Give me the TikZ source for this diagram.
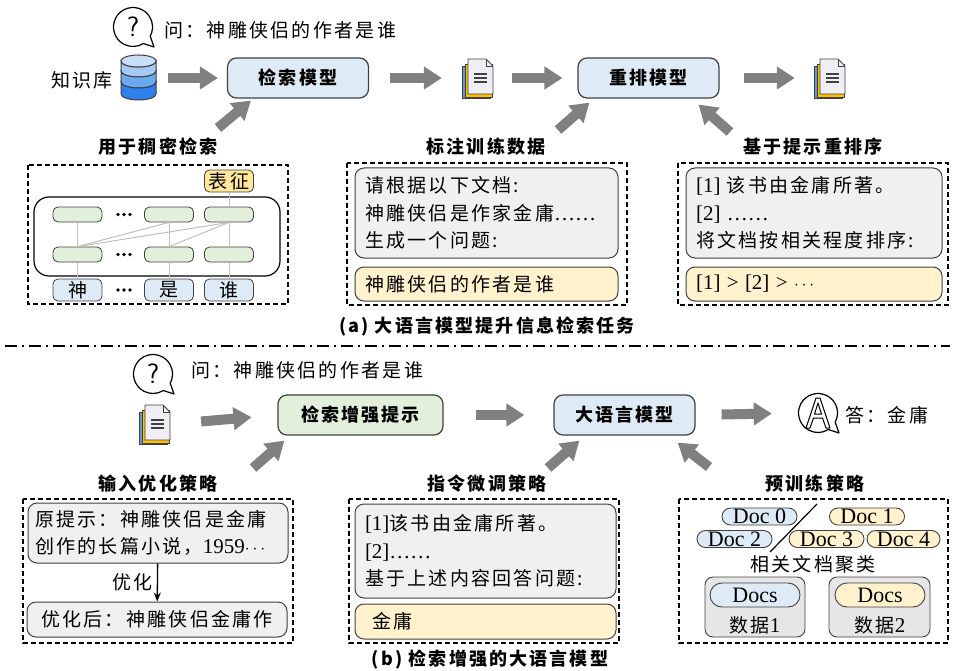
\documentclass[tikz,border=0pt]{standalone}
\usepackage{fontspec}
\setmainfont{Liberation Serif}
\newfontfamily\cjk[LetterSpace=12]{Noto Sans CJK SC}
\usetikzlibrary{arrows.meta}

\newcommand\lat[1]{{\rmfamily\fontsize{21}{27.5}\selectfont #1}}

\definecolor{boxblue}{HTML}{DEEBF7}
\definecolor{boxgreen}{HTML}{E2EFDA}
\definecolor{boxyellow}{HTML}{FFF2CC}
\definecolor{tagyellow}{HTML}{FFE699}
\definecolor{boxgray}{HTML}{F0F0F0}
\definecolor{packgray}{HTML}{E6E6E6}
\definecolor{edgegray}{HTML}{404040}
\definecolor{arrowgray}{HTML}{808080}
\definecolor{linkgray}{HTML}{BFBFBF}
\definecolor{dbtop}{HTML}{C9DFF8}
\definecolor{dba}{HTML}{A6C9F4}
\definecolor{dbb}{HTML}{6AA8F0}
\definecolor{dbc}{HTML}{2F7FEE}
\definecolor{pageblue}{HTML}{5B9BD5}
\definecolor{pageyellow}{HTML}{FFC000}
\definecolor{pagewhite}{HTML}{EFEFF3}

\tikzset{
  txt/.style={font=\cjk\fontsize{19}{27.5}\selectfont, inner sep=0pt},
  lbl/.style={font=\cjk\bfseries\fontsize{18}{22}\selectfont, inner sep=0pt},
  model/.style={draw=edgegray, line width=1.2pt, rounded corners=9pt, minimum width=141pt, minimum height=40pt, lbl},
  note/.style={txt, draw=edgegray, fill=boxgray, line width=1pt, rounded corners=9pt, align=left, inner xsep=10pt},
  reply/.style={note, fill=boxyellow},
  cell/.style={draw=edgegray, fill=boxgreen, line width=0.8pt, rounded corners=5pt, minimum width=49pt, minimum height=15pt, inner sep=0pt},
  tok/.style={txt, draw=edgegray, fill=boxblue, line width=0.8pt, rounded corners=5pt, minimum width=49pt, minimum height=22pt},
  pill/.style={draw=edgegray, line width=0.9pt, rounded corners=8.5pt, minimum width=75pt, minimum height=17pt, inner sep=0pt, font=\fontsize{22}{22}\selectfont},
  pack/.style={draw=edgegray, fill=packgray, line width=0.9pt, rounded corners=8pt, minimum width=100pt, minimum height=60pt},
  hole/.style={minimum width=32pt, minimum height=40pt, inner sep=0pt},
  link/.style={draw=linkgray, line width=1pt},
  panel/.style={draw, line width=1.4pt, dash pattern=on 5pt off 3pt},
  fat/.style={draw=arrowgray, line width=10pt, -{Triangle[length=18pt,width=22pt]}},
  pics/bubble/.style={code={
    \draw[line width=1.2pt, fill=white, line join=round] (28:19.5) arc[start angle=28, end angle=-302, radius=19.5] -- (21,20) -- cycle;
  }},
  pics/docs/.style={code={
    \filldraw[fill=pageblue, draw=edgegray, line width=0.8pt] (-16,-12) rectangle (12,20);
    \filldraw[fill=pageyellow, draw=edgegray, line width=0.8pt] (-13,-14) rectangle (14,19);
    \filldraw[fill=pagewhite, draw=edgegray, line width=0.9pt, line join=round] (-10,-19) -- (8,-19) -- (15,-12) -- (15,16) -- (-10,16) -- cycle;
    \draw[edgegray, line width=0.8pt] (8,-19) -- (8,-12) -- (15,-12);
    \foreach \y in {-4,0,4} \draw[edgegray, line width=1.2pt] (-4,\y) -- (9,\y);
  }}
}

\begin{document}
\begin{tikzpicture}[x=1pt,y=-1pt]
\useasboundingbox (0,0) rectangle (971,671);

% (a) top row
\pic at (133,27) {bubble};
\node[font=\sffamily\fontsize{28}{28}\selectfont] (qmark) at (133,27) {?};
\node[txt, anchor=west] (qtext) at (164,30) {问：神雕侠侣的作者是谁};
\node[txt, anchor=east] (kb) at (113,80) {知识库};
\node[hole, minimum width=35pt, minimum height=45pt] (db) at (138.5,78) {};
\foreach \yt/\yb/\c in {61/71/dba, 71/82/dbb, 82/94/dbc}
  \filldraw[fill=\c, draw=edgegray, line width=1pt] (121,\yt) -- (121,\yb) arc[start angle=180, end angle=0, x radius=17.5, y radius=6] -- (156,\yt) arc[start angle=0, end angle=180, x radius=17.5, y radius=6] -- cycle;
\filldraw[fill=dbtop, draw=edgegray, line width=1pt] (138.5,61) ellipse[x radius=17.5, y radius=6];

\node[model, fill=boxblue] (retr) at (298,78) {检索模型};
\pic at (478,78) {docs};
\node[hole] (doc1) at (478,78) {};
\node[model, fill=boxblue] (rank) at (648.5,78) {重排模型};
\pic at (830,78) {docs};
\node[hole] (doc2) at (830,78) {};

\draw[fat, shorten <=12pt, shorten >=9pt] (db.east) -- (retr.west);
\draw[fat, shorten <=21pt, shorten >=20pt] (retr.east) -- (doc1.west);
\draw[fat, shorten <=18pt, shorten >=15pt] (doc1.east) -- (rank.west);
\draw[fat, shorten <=24pt, shorten >=19pt] (rank.east) -- (doc2.west);

\node[lbl] (dense) at (158,147) {用于稠密检索};
\node[lbl] (anno) at (486,147) {标注训练数据};
\node[lbl] (hint) at (813,147) {基于提示重排序};

\coordinate (ta1) at (218,128);
\coordinate (ta2) at (558,130);
\coordinate (ta3) at (730,132);
\draw[fat] (ta1) -- ([xshift=24pt,yshift=-2pt]retr.south west);
\draw[fat] (ta2) -- ([xshift=12pt,yshift=-4pt]rank.south west);
\draw[fat] (ta3) -- ([xshift=-21pt,yshift=-6pt]rank.south east);

% (a) panels
\draw[panel] (28,165) rectangle (288,304);
\draw[panel] (347,163) rectangle (627,305);
\draw[panel] (678,163) rectangle (948,305);

% dense encoder
\node[draw, line width=1.2pt, rounded corners=15pt, minimum width=246pt, minimum height=79pt] (enc) at (157,236.5) {};
\node[tok] (tk1) at (77.5,290) {神};
\node[tok] (tk2) at (169,290) {是};
\node[tok] (tk3) at (229,290) {谁};
\node[cell] (lo1) at (77.5,254.5) {};
\node[cell] (lo2) at (169,254.5) {};
\node[cell] (lo3) at (229,254.5) {};
\node[cell] (up1) at (77.5,214.5) {};
\node[cell] (up2) at (169,214.5) {};
\node[cell] (up3) at (229,214.5) {};
\node[tok, fill=tagyellow] (rep) at (229,181) {表征};
\draw[link] (tk1) -- (lo1) -- (up1);
\draw[link] (tk2) -- (lo2) -- (up2);
\draw[link] (tk3) -- (lo3) -- (up3) -- (rep);
\draw[link] (lo1.north) -- (up2.south);
\draw[link] (lo1.north) -- (up3.south);
\draw[link] (lo2.north) -- (up3.south);
\foreach \y in {214.5,254.5,290}
  \foreach \dx in {-6,0,6}
    \fill (124+\dx,\y) circle (1.9pt);

% question generation
\node[note, text width=243pt, minimum height=90pt] (ask) at (486.5,213) {请根据以下文档:\\神雕侠侣是作家金庸\lat{……}\\生成一个问题:};
\node[reply, text width=243pt, minimum height=34pt] (gen) at (486.5,284) {神雕侠侣的作者是谁};

% reranking prompt
\node[note, text width=236pt, minimum height=90pt] (order) at (814,213) {\lat{[1]} 该书由金庸所著。\\\lat{[2] ……}\\将文档按相关程度排序:};
\node[reply, text width=236pt, minimum height=34pt] (rankout) at (814,284) {\lat{[1] > [2] >} $\cdots$};

\node[lbl] (capa) at (487,327) {(a) 大语言模型提升信息检索任务};

\draw[line width=1.4pt, dash pattern=on 12pt off 5pt on 2pt off 5pt] (5,346) -- (950,346);

% (b) top row
\pic at (153,374) {bubble};
\node[font=\sffamily\fontsize{28}{28}\selectfont] (qmark2) at (153,374) {?};
\node[txt, anchor=west] (qtext2) at (191,370) {问：神雕侠侣的作者是谁};
\pic at (155,424) {docs};
\node[hole] (doc3) at (155,424) {};
\node[model, fill=boxgreen, minimum width=165pt] (aug) at (360.5,415) {检索增强提示};
\node[model, fill=boxblue] (llm) at (624.5,415) {大语言模型};
\pic at (818,413) {bubble};
\draw[line width=1pt, line join=round] (806,428) -- (816,398) -- (820,398) -- (830,428) -- (826,428) -- (822.5,418) -- (813.5,418) -- (810,428) -- cycle
  (814.5,414) -- (818,403) -- (821.5,414) -- cycle;
\node[hole, minimum width=40pt] (ansb) at (818,413) {};
\node[txt, anchor=west] (atext) at (845,415) {答：金庸};

\draw[fat, shorten <=30pt, shorten >=26pt] (doc3.east) -- (aug.west);
\draw[fat, shorten <=32pt, shorten >=29pt] (aug.east) -- (llm.west);
\draw[fat, shorten <=26pt, shorten >=26pt] (llm.east) -- (ansb.west);

\node[lbl] (inopt) at (158,484) {输入优化策略};
\node[lbl] (inst) at (487,484) {指令微调策略};
\node[lbl] (pre) at (815,484) {预训练策略};

\coordinate (tb1) at (253,468);
\coordinate (tb2) at (548,468);
\coordinate (tb3) at (709,467);
\draw[fat] (tb1) -- ([xshift=7pt,yshift=-5pt]aug.south west);
\draw[fat] (tb2) -- ([xshift=26pt,yshift=-5pt]llm.south west);
\draw[fat] (tb3) -- ([xshift=-18pt,yshift=-7pt]llm.south east);

% (b) panels
\draw[panel] (23,499) rectangle (293,643);
\draw[panel] (349,499) rectangle (619,643);
\draw[panel] (679,499) rectangle (948,643);

% input optimisation
\node[note, inner xsep=7pt, text width=246pt, minimum height=60pt] (orig) at (158,533) {原提示：神雕侠侣是金庸\\创作的长篇小说，\lat{1959}$\cdots$};
\node[note, align=center, inner xsep=7pt, text width=246pt, minimum height=35pt] (opt) at (157,619.5) {优化后：神雕侠侣金庸作};
\draw[line width=1.3pt, -{Stealth[length=9pt,width=7pt]}] (orig) -- (opt) node[midway, left=4pt, txt] (optl) {优化};

% instruction tuning
\node[note, text width=241pt, minimum height=94pt] (ctx) at (485.5,551) {\lat{[1]}该书由金庸所著。\\\lat{[2]……}\\基于上述内容回答问题:};
\node[reply, inner xsep=17pt, text width=227pt, minimum height=35pt] (ans) at (485.5,621.5) {金庸};

% pretraining
\node[pill, fill=boxblue] (d0) at (759.5,516.5) {Doc 0};
\node[pill, fill=boxyellow] (d1) at (867,516.5) {Doc 1};
\node[pill, fill=boxblue] (d2) at (734.5,539) {Doc 2};
\node[pill, fill=boxyellow] (d3) at (826.5,539) {Doc 3};
\node[pill, fill=boxyellow, minimum width=73pt] (d4) at (903.5,539) {Doc 4};
\draw[line width=1.2pt] (817,504) -- (770,552);
\node[txt] (clus) at (813,564) {相关文档聚类};
\node[pack] (pk1) at (755,607) {};
\node[pack, minimum width=101pt] (pk2) at (879.5,607) {};
\node[pill, fill=boxblue, minimum width=90pt, minimum height=24pt, rounded corners=12pt] (ds1) at (755,595) {Docs};
\node[pill, fill=boxyellow, minimum width=90pt, minimum height=24pt, rounded corners=12pt] (ds2) at (880,595) {Docs};
\node[txt] (set1) at (755,625) {数据\lat{1}};
\node[txt] (set2) at (880,625) {数据\lat{2}};

\node[lbl] (capb) at (490,660) {(b) 检索增强的大语言模型};
\end{tikzpicture}
\end{document}
